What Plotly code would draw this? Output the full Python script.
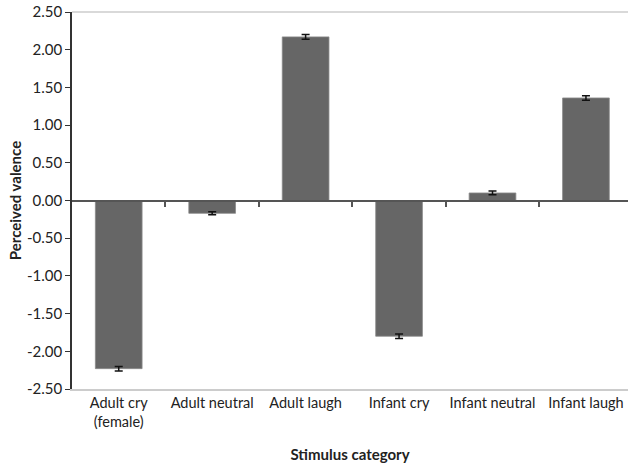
import plotly.graph_objects as go

categories = ["Adult cry<br>(female)", "Adult neutral", "Adult laugh",
              "Infant cry", "Infant neutral", "Infant laugh"]
valence = [-2.23, -0.17, 2.17, -1.80, 0.10, 1.36]
sem = [0.03, 0.02, 0.03, 0.03, 0.025, 0.03]
y_ticks = [2.5, 2.0, 1.5, 1.0, 0.5, 0.0, -0.5, -1.0, -1.5, -2.0, -2.5]

FONT = "Lato, 'Open Sans', sans-serif"
X_RANGE = [-0.5, 5.45]
boundaries = [i + 0.5 for i in range(len(categories) - 1)]

fig = go.Figure()
fig.add_trace(go.Bar(
    x=categories, y=valence,
    marker=dict(color="#666666", line=dict(color="#8a8a8a", width=0.8)),
    error_y=dict(type="data", array=sem, color="#111111", thickness=1.5, width=4),
    hoverinfo="skip", showlegend=False,
))
# invisible companion trace to drive the zero-crossing axis with boundary ticks
fig.add_trace(go.Scatter(
    x=list(range(len(categories))), y=[0] * len(categories),
    xaxis="x2", yaxis="y",
    mode="markers", marker=dict(opacity=0), hoverinfo="skip", showlegend=False,
))

fig.update_layout(
    width=628, height=463,
    margin=dict(l=72, r=0, t=12, b=74),
    paper_bgcolor="white", plot_bgcolor="white",
    bargap=0.5,
    font=dict(family=FONT, size=15, color="#222222"),
    xaxis=dict(
        type="category", range=X_RANGE, automargin=False,
        showline=True, linecolor="#cccccc", linewidth=1.5,
        ticks="", showgrid=False, zeroline=False,
        tickfont=dict(size=14.5, color="#222222"),
        title=dict(text="<b>Stimulus category</b>", font=dict(size=15, color="#222222"), standoff=20),
    ),
    xaxis2=dict(
        overlaying="x", anchor="free", position=0.5, range=X_RANGE,
        side="bottom", showline=True, linecolor="#555555", linewidth=1.5,
        tickmode="array", tickvals=boundaries, ticks="outside", ticklen=6,
        tickcolor="#555555", tickwidth=1.5,
        showticklabels=False, showgrid=False, zeroline=False, automargin=False,
    ),
    yaxis=dict(
        range=[-2.5, 2.5], tickvals=y_ticks, automargin=False,
        ticktext=[f"{v:.2f}" for v in y_ticks],
        showline=True, linecolor="#333333", linewidth=1.5,
        ticks="outside", ticklen=5, tickcolor="#333333", tickwidth=1.2,
        showgrid=False, zeroline=False, ticklabeloverflow="allow",
        tickfont=dict(size=15, color="#222222"),
        title=dict(text="<b>Perceived valence</b>", font=dict(size=15, color="#222222"), standoff=2),
    ),
    # light plot-area top border
    shapes=[dict(type="line", xref="paper", yref="paper", x0=0, x1=1, y0=1, y1=1,
                 line=dict(color="#cccccc", width=1.5), layer="above")],
)

fig.write_html("out.html", post_script="document.body.style.margin='0';",
               config={"displayModeBar": False})
